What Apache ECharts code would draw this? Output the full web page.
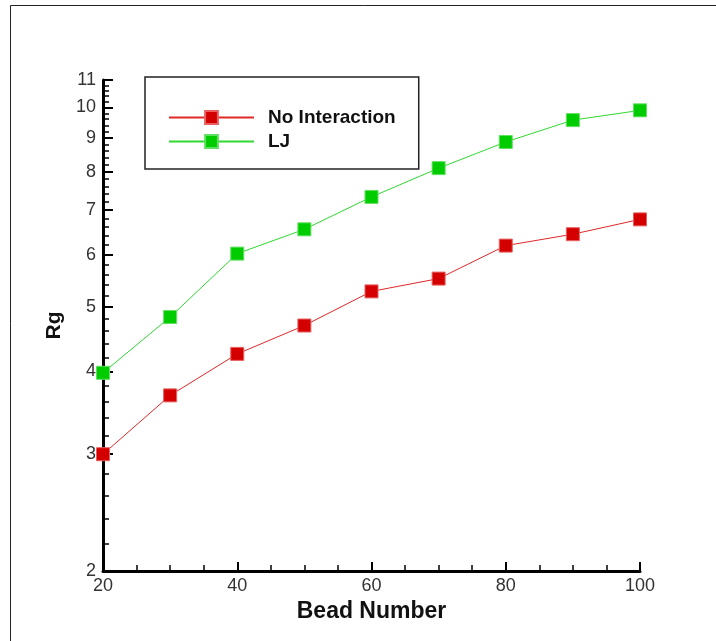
<!DOCTYPE html>
<html>
<head>
<meta charset="utf-8">
<script src="https://cdn.jsdelivr.net/npm/echarts@6/dist/echarts.min.js"></script>
<style>html,body{margin:0;padding:0;background:#fff;}#c{width:716px;height:641px;}</style>
</head>
<body>
<div id="c"></div>
<script>
var beadNumbers = [20, 30, 40, 50, 60, 70, 80, 90, 100];
var noInteraction = [3.00, 3.68, 4.25, 4.69, 5.28, 5.52, 6.19, 6.44, 6.78];
var ljValues = [3.98, 4.83, 6.02, 6.55, 7.33, 8.10, 8.87, 9.57, 9.90];
var yMajorTicks = [2, 3, 4, 5, 6, 7, 8, 9, 10, 11];
var yMinorTicks = [2.2, 2.4, 2.6, 2.8, 3.2, 3.4, 3.6, 3.8, 4.2, 4.4, 4.6, 4.8,
  5.2, 5.4, 5.6, 5.8, 6.2, 6.4, 6.6, 6.8, 7.2, 7.4, 7.6, 7.8, 8.2, 8.4, 8.6, 8.8,
  9.2, 9.4, 9.6, 9.8, 10.2, 10.4, 10.6, 10.8];

function pairs(xs, ys) { return xs.map(function (x, i) { return [x, ys[i]]; }); }

var chart = echarts.init(document.getElementById('c'), null, { renderer: 'canvas' });
var labelFont = { fontFamily: 'Liberation Sans', fontSize: 18, color: '#333' };
chart.setOption({
  backgroundColor: '#fff',
  animation: false,
  graphic: [{
    type: 'rect', shape: { x: 10.5, y: 5.5, width: 730, height: 660 },
    style: { fill: 'none', stroke: '#222', lineWidth: 1 }, silent: true, z: 0
  }],
  grid: { left: 103, top: 80, right: 76, bottom: 70, containLabel: false },
  legend: {
    left: 145, top: 77,
    orient: 'vertical',
    padding: [31, 23, 18, 23],
    itemGap: 5,
    itemWidth: 85, itemHeight: 16,
    borderColor: '#222', borderWidth: 1.5,
    backgroundColor: '#fff',
    textStyle: { fontFamily: 'Liberation Sans', fontWeight: 'bold', fontSize: 19, color: '#111', lineHeight: 18, padding: [0, 0, 0, 9] },
    data: ['No Interaction', 'LJ']
  },
  xAxis: {
    type: 'value', min: 20, max: 100, interval: 20,
    name: 'Bead Number', nameLocation: 'middle', nameGap: 23,
    nameTextStyle: { fontFamily: 'Liberation Sans', fontWeight: 'bold', fontSize: 23, color: '#111' },
    axisLine: { show: true, onZero: false, lineStyle: { color: '#000', width: 3 } },
    axisTick: { show: true, inside: true, length: 9, lineStyle: { color: '#000', width: 2 } },
    minorTick: { show: true, splitNumber: 4, length: 6, lineStyle: { color: '#000', width: 1.5 } },
    axisLabel: Object.assign({ margin: 6 }, labelFont),
    splitLine: { show: false }
  },
  yAxis: [{
    type: 'log', logBase: 10, min: 2, max: 11,
    name: 'Rg', nameLocation: 'middle', nameGap: 38, nameRotate: 90,
    nameTextStyle: { fontFamily: 'Liberation Sans', fontWeight: 'bold', fontSize: 21, color: '#111' },
    axisLine: { show: true, lineStyle: { color: '#000', width: 3 } },
    axisTick: { show: true, inside: true, length: 10, customValues: yMajorTicks, lineStyle: { color: '#000', width: 2 } },
    axisLabel: Object.assign({ margin: 7, customValues: yMajorTicks, showMinLabel: true, showMaxLabel: true }, labelFont),
    splitLine: { show: false }
  }, {
    type: 'log', logBase: 10, min: 2, max: 11, position: 'left',
    axisLine: { show: false },
    axisTick: { show: true, inside: true, length: 6, customValues: yMinorTicks, lineStyle: { color: '#000', width: 1.5 } },
    axisLabel: { show: false },
    splitLine: { show: false }
  }],
  series: [{
    name: 'No Interaction', type: 'line', yAxisIndex: 0,
    data: pairs(beadNumbers, noInteraction),
    symbol: 'rect', symbolSize: 13,
    itemStyle: { color: '#d40000', borderColor: '#e86060', borderWidth: 1 },
    lineStyle: { color: '#e02828', width: 1 },
    z: 3
  }, {
    name: 'LJ', type: 'line', yAxisIndex: 0,
    data: pairs(beadNumbers, ljValues),
    symbol: 'rect', symbolSize: 13,
    itemStyle: { color: '#00cc00', borderColor: '#60e060', borderWidth: 1 },
    lineStyle: { color: '#30d830', width: 1 },
    z: 3
  }]
});
</script>
</body>
</html>
